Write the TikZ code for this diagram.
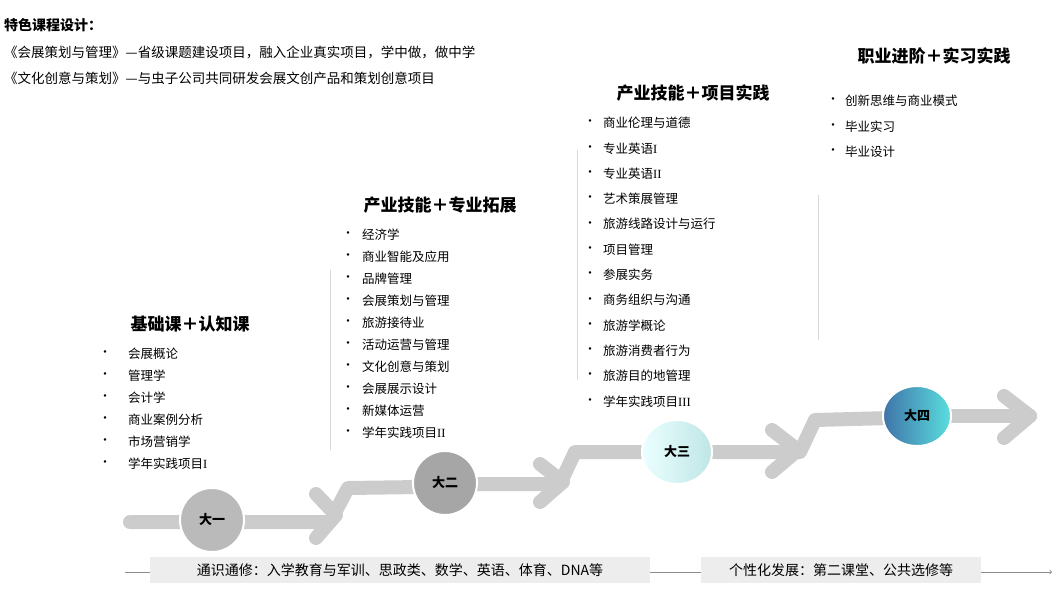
\documentclass[tikz,border=0pt]{standalone}
\usepackage{fontspec}
\usetikzlibrary{shapes.geometric}
\setmainfont{Noto Sans CJK SC}
\newfontfamily\romf{Liberation Serif}
\begin{document}
\begin{tikzpicture}[x=1pt,y=-1pt,
  stair/.style={draw=black!20,line width=14pt,line cap=round,line join=round},
  yr/.style={circle,draw=white,line width=2pt,minimum size=64pt,font=\bfseries\fontsize{13}{13}\selectfont,inner sep=0pt},
  head/.style={font=\bfseries\fontsize{17}{17}\selectfont},
  it/.style={anchor=west,font=\fontsize{12.5}{12.5}\selectfont,inner sep=0pt},
  bul/.style={font=\fontsize{12}{12}\selectfont,inner sep=0pt},
  sep/.style={draw=black!15,line width=0.8pt},
  band/.style={fill=black!7,inner sep=4pt,font=\fontsize{14}{14}\selectfont}]
\useasboundingbox (0,0) rectangle (1057,595);
% staircase
\draw[stair] (130,522) -- (330,522) -- (348,488) -- (420,487);
\draw[stair] (316,494) -- (336,515) -- (316,538);
\draw[stair] (470,484) -- (560,484) -- (575,452) -- (650,452);
\draw[stair] (540,464) -- (563,482) -- (540,502);
\draw[stair] (705,452) -- (800,452) -- (815,420) -- (890,418);
\draw[stair] (772,430) -- (798,450) -- (772,472);
\draw[stair] (945,416) -- (1030,416);
\draw[stair] (1004,396) -- (1030,416) -- (1004,438);
% year circles
\node[yr,fill=black!27] (y1) at (212,520) {大一};
\node[yr,fill=black!35] (y2) at (445,483) {大二};
\node[yr,ellipse,left color=cyan!8,right color=cyan!20!teal!25,minimum width=70pt,minimum height=64pt] (y3) at (677,452) {大三};
\node[yr,ellipse,left color=cyan!50!blue!55!black!75,right color=cyan!60!teal!65,minimum width=68pt,minimum height=60pt] (y4) at (917,416) {大四};
% top-left
\node[anchor=west,inner sep=0pt,font=\bfseries\fontsize{14}{14}\selectfont] (t0) at (4,25) {特色课程设计：};
\node[anchor=west,inner sep=0pt,font=\fontsize{13.5}{13.5}\selectfont] (t1) at (4,52) {《会展策划与管理》—省级课题建设项目，融入企业真实项目，学中做，做中学};
\node[anchor=west,inner sep=0pt,font=\fontsize{13.5}{13.5}\selectfont] (t2) at (4,78) {《文化创意与策划》—与虫子公司共同研发会展文创产品和策划创意项目};
% column 1
\node[head] (h1) at (190,324) {基础课＋认知课};
\foreach \t [count=\i] in {会展概论,管理学,会计学,商业案例分析,市场营销学,{学年实践项目{\romf I}}}{
  \node[bul] (b1\i) at (105,{354+22*(\i-1)}) {•};
  \node[it] (c1\i) at (128,{354+22*(\i-1)}) {\t};}
% column 2
\draw[sep] (330,270) -- (330,450);
\node[head] (h2) at (440,205) {产业技能＋专业拓展};
\foreach \t [count=\i] in {经济学,商业智能及应用,品牌管理,会展策划与管理,旅游接待业,活动运营与管理,文化创意与策划,会展展示设计,新媒体运营,{学年实践项目{\romf II}}}{
  \node[bul] (b2\i) at (348,{235+22*(\i-1)}) {•};
  \node[it] (c2\i) at (362,{235+22*(\i-1)}) {\t};}
% column 3
\draw[sep] (577,150) -- (577,380);
\node[head] (h3) at (693,93) {产业技能＋项目实践};
\foreach \t [count=\i] in {商业伦理与道德,{专业英语{\romf I}},{专业英语{\romf II}},艺术策展管理,旅游线路设计与运行,项目管理,参展实务,商务组织与沟通,旅游学概论,旅游消费者行为,旅游目的地管理,{学年实践项目{\romf III}}}{
  \node[bul] (b3\i) at (590,{123+25.3*(\i-1)}) {•};
  \node[it] (c3\i) at (603,{123+25.3*(\i-1)}) {\t};}
% column 4
\draw[sep] (818,195) -- (818,340);
\node[head] (h4) at (934,56) {职业进阶＋实习实践};
\foreach \t [count=\i] in {创新思维与商业模式,毕业实习,毕业设计}{
  \node[bul] (b4\i) at (833,{101+25.5*(\i-1)}) {•};
  \node[it] (c4\i) at (845,{101+25.5*(\i-1)}) {\t};}
% bottom
\coordinate (l0) at (125,572);
\coordinate (l1) at (1052,572);
\draw[black!45,line width=0.8pt,->] (l0) -- (l1);
\node[band,minimum width=500pt,minimum height=26pt] (g1) at (400,570) {通识通修：入学教育与军训、思政类、数学、英语、体育、DNA等};
\node[band,minimum width=280pt,minimum height=26pt] (g2) at (841,570) {个性化发展：第二课堂、公共选修等};
\end{tikzpicture}
\end{document}
